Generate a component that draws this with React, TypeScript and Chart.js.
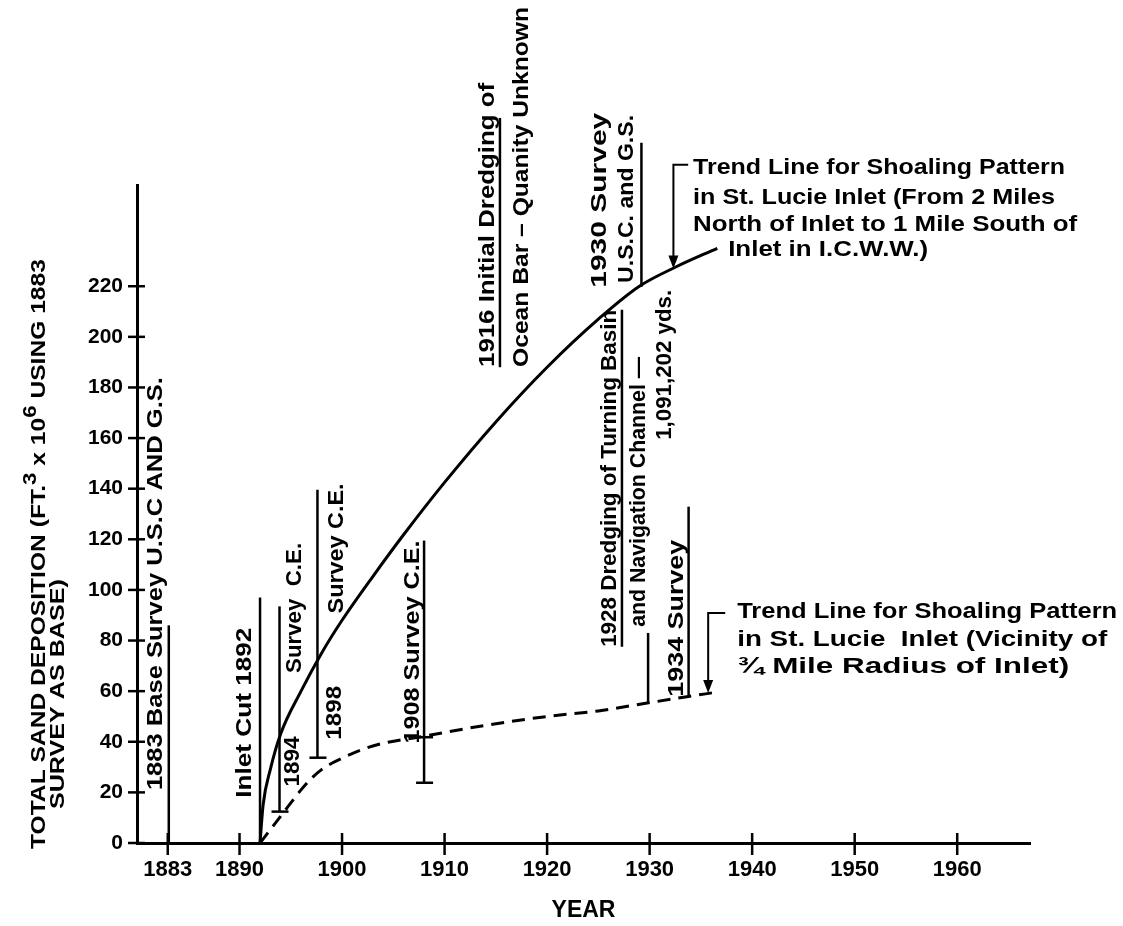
import React, { useEffect, useRef } from 'react';
import { Chart, registerables } from 'chart.js';

Chart.register(...registerables);

const FONT = '"Liberation Sans", Arial, "DejaVu Sans", sans-serif';

// Upper trend line (solid): 2 miles north to 1 mile south of inlet
const upperYears = [1892, 1892.3, 1893, 1894, 1896, 1898, 1900, 1903, 1906, 1910, 1915, 1920, 1925, 1929, 1932.5, 1936.6];
const upperValues = [0, 15, 29, 43, 60, 75, 88, 105.3, 121.8, 142.5, 166.4, 188, 207, 220, 227.5, 235];

// Lower trend line (dashed): vicinity of 3/4 mile radius of inlet
const lowerYears = [1892, 1894, 1896, 1897, 1898, 1899, 1900, 1902, 1904, 1908, 1914, 1920, 1925, 1929.9, 1933.8, 1936.2];
const lowerValues = [0, 10.5, 21, 25.5, 29, 31.5, 33.5, 37, 39.4, 42.2, 46.5, 50, 52.2, 55.4, 57.9, 59.4];

const xTickYears = [1883, 1890, 1900, 1910, 1920, 1930, 1940, 1950, 1960];
const yTickValues = [0, 20, 40, 60, 80, 100, 120, 140, 160, 180, 200, 220];

const yTitleLine1 = ['TOTAL SAND DEPOSITION (FT.', '3', ' x 10', '6', ' USING 1883'];
const yTitleLine2 = 'SURVEY AS BASE)';
const xTitle = 'YEAR';

// event marker lines (year, from value, to value)
const markerLines = [
  { year: 1883.1, from: 0, to: 86 },
  { year: 1892.0, from: 0, to: 97 },
  { year: 1893.9, from: 12.4, to: 93.5 },
  { year: 1897.6, from: 33.7, to: 139.6 },
  { year: 1908.0, from: 23.8, to: 119.5 },
  { year: 1915.4, from: 188, to: 286.5 },
  { year: 1927.3, from: 77.5, to: 210.7 },
  { year: 1929.85, from: 55.4, to: 83 },
  { year: 1929.2, from: 219.8, to: 276.7 },
  { year: 1933.8, from: 57.9, to: 132.9 },
];
const plusMarks = [
  { year: 1893.9, value: 12.4 },
  { year: 1897.6, value: 33.7 },
  { year: 1908.0, value: 23.8 },
  { year: 1908.0, value: 41.8 },
];

const verticalNotes = [
  { text: '1883 Base Survey U.S.C AND G.S.', year: 1881.85, value: 20.9, len: 413 },
  { text: 'Inlet Cut 1892', year: 1890.54, value: 17.9, len: 170 },
  { text: '1894', year: 1895.22, value: 22.3, len: 50 },
  { text: 'Survey  C.E.', year: 1895.41, value: 67.2, len: 130 },
  { text: '1898', year: 1899.32, value: 40.8, len: 54 },
  { text: 'Survey C.E.', year: 1899.51, value: 90.7, len: 130 },
  { text: '1908 Survey C.E.', year: 1906.96, value: 39.3, len: 203 },
  { text: '1916 Initial Dredging of', year: 1914.24, value: 188.1, len: 284 },
  { text: 'Ocean Bar – Quanity Unknown', year: 1917.53, value: 188.1, len: 360 },
  { text: '1928 Dredging of Turning Basin', year: 1926.15, value: 77.5, len: 337 },
  { text: 'and Navigation Channel —', year: 1928.98, value: 85.4, len: 270 },
  { text: '1,091,202 yds.', year: 1931.51, value: 159.3, len: 150 },
  { text: '1930 Survey', year: 1925.17, value: 219.4, len: 175 },
  { text: 'U.S.C. and G.S.', year: 1927.78, value: 221.3, len: 168 },
  { text: '1934 Survey', year: 1932.65, value: 57.8, len: 157 },
];

const horizontalNotes = [
  { text: 'Trend Line for Shoaling Pattern', year: 1934.24, value: 266.8, len: 372 },
  { text: 'in St. Lucie Inlet (From 2 Miles', year: 1934.24, value: 254.9, len: 362 },
  { text: 'North of Inlet to 1 Mile South of', year: 1934.24, value: 244.3, len: 384 },
  { text: 'Inlet in I.C.W.W.)', year: 1937.66, value: 234.4, len: 200 },
  { text: 'Trend Line for Shoaling Pattern', year: 1938.54, value: 91.3, len: 380 },
  { text: 'in St. Lucie  Inlet (Vicinity of', year: 1938.54, value: 80.2, len: 370 },
  { text: '¾ Mile Radius of Inlet)', year: 1938.54, value: 69.6, len: 332 },
];

const arrows = [
  { year: 1932.32, top: 268, tip: 227, hookTo: 1933.76 },
  { year: 1935.71, top: 90.9, tip: 59.3, hookTo: 1937.37 },
];

function drawFitted(ctx: CanvasRenderingContext2D, text: string, x: number, y: number, len: number, vertical: boolean, size: number) {
  ctx.save();
  ctx.translate(x, y);
  if (vertical) ctx.rotate(-Math.PI / 2);
  ctx.font = `bold ${size}px ${FONT}`;
  const w = ctx.measureText(text).width;
  ctx.scale(len / w, 1);
  ctx.textAlign = 'left';
  ctx.textBaseline = 'middle';
  ctx.fillText(text, 0, 0);
  ctx.restore();
}

const notesPlugin = {
  id: 'sketchNotes',
  afterDraw(chart: any) {
    const { ctx, chartArea } = chart;
    const xs = chart.scales.x;
    const ys = chart.scales.y;
    const X = (v: number) => xs.getPixelForValue(v);
    const Y = (v: number) => ys.getPixelForValue(v);
    ctx.save();
    ctx.strokeStyle = '#000';
    ctx.fillStyle = '#000';
    ctx.lineCap = 'butt';

    // crossing tick marks
    ctx.lineWidth = 2.5;
    yTickValues.forEach((v) => {
      const py = Y(v);
      ctx.beginPath();
      ctx.moveTo(chartArea.left - 9, py);
      ctx.lineTo(chartArea.left + 8, py);
      ctx.stroke();
    });
    xTickYears.forEach((v) => {
      const px = X(v);
      ctx.beginPath();
      ctx.moveTo(px, chartArea.bottom - 10);
      ctx.lineTo(px, chartArea.bottom + 12);
      ctx.stroke();
    });

    // marker lines
    ctx.lineWidth = 2.5;
    markerLines.forEach((m) => {
      ctx.beginPath();
      ctx.moveTo(X(m.year), Y(m.from));
      ctx.lineTo(X(m.year), Y(m.to));
      ctx.stroke();
    });
    plusMarks.forEach((p) => {
      ctx.beginPath();
      ctx.moveTo(X(p.year) - 8, Y(p.value));
      ctx.lineTo(X(p.year) + 9, Y(p.value));
      ctx.stroke();
    });

    // arrows with hooks
    arrows.forEach((a) => {
      const px = X(a.year);
      ctx.lineWidth = 2;
      ctx.beginPath();
      ctx.moveTo(X(a.hookTo), Y(a.top));
      ctx.lineTo(px, Y(a.top));
      ctx.lineTo(px, Y(a.tip) - 8);
      ctx.stroke();
      ctx.beginPath();
      ctx.moveTo(px, Y(a.tip));
      ctx.lineTo(px - 5, Y(a.tip) - 13);
      ctx.lineTo(px + 5, Y(a.tip) - 13);
      ctx.closePath();
      ctx.fill();
    });

    // notes
    verticalNotes.forEach((n) => drawFitted(ctx, n.text, X(n.year), Y(n.value), n.len, true, 22));
    horizontalNotes.forEach((n) => drawFitted(ctx, n.text, X(n.year), Y(n.value), n.len, false, 22));

    // y axis title (two lines, rotated, with raised exponents)
    {
      const size = 21;
      ctx.save();
      ctx.translate(X(1870.5), Y(-2.4));
      ctx.rotate(-Math.PI / 2);
      ctx.textAlign = 'left';
      ctx.textBaseline = 'middle';
      let total = 0;
      const widths = yTitleLine1.map((t, i) => {
        ctx.font = `bold ${i % 2 === 1 ? size - 2 : size}px ${FONT}`;
        const w = ctx.measureText(t).width;
        total += w;
        return w;
      });
      ctx.scale(590 / total, 1);
      let cx = 0;
      yTitleLine1.forEach((t, i) => {
        const sup = i % 2 === 1;
        ctx.font = `bold ${sup ? size - 2 : size}px ${FONT}`;
        ctx.fillText(t, cx, sup ? -9 : 0);
        cx += widths[i];
      });
      ctx.restore();
      drawFitted(ctx, yTitleLine2, X(1872.3), Y(13.4), 230, true, size);
    }
    ctx.restore();
  },
};

export default function App() {
  const ref = useRef<HTMLCanvasElement>(null);
  useEffect(() => {
    const canvas = ref.current;
    if (!canvas) return;
    const tickFont = (size: number) => ({ family: FONT, size, weight: 'bold' as const });
    const chart = new Chart(canvas, {
      type: 'line',
      data: {
        datasets: [
          {
            label: 'Upper trend line',
            data: upperYears.map((x, i) => ({ x, y: upperValues[i] })),
            borderColor: '#000',
            borderWidth: 3,
            pointRadius: 0,
            fill: false,
            cubicInterpolationMode: 'monotone',
          },
          {
            label: 'Lower trend line',
            data: lowerYears.map((x, i) => ({ x, y: lowerValues[i] })),
            borderColor: '#000',
            borderWidth: 3,
            borderDash: [13, 8],
            pointRadius: 0,
            fill: false,
            cubicInterpolationMode: 'monotone',
          },
        ],
      },
      options: {
        responsive: false,
        animation: false,
        devicePixelRatio: 1,
        layout: { padding: { left: 0, top: 185, right: 93, bottom: 0 } },
        plugins: { legend: { display: false }, tooltip: { enabled: false } },
        scales: {
          x: {
            type: 'linear',
            min: 1880,
            max: 1967.1,
            afterBuildTicks: (s: any) => {
              s.ticks = xTickYears.map((v) => ({ value: v }));
            },
            afterFit: (s: any) => {
              s.height = 83;
            },
            grid: { display: false, drawTicks: false },
            border: { display: true, color: '#000', width: 3 },
            ticks: {
              padding: 14,
              color: '#000',
              font: tickFont(22),
              autoSkip: false,
              maxRotation: 0,
              callback: (v: any) => String(v),
            },
            title: {
              display: true,
              text: xTitle,
              color: '#000',
              font: tickFont(23),
              padding: { top: 0, bottom: 2 },
            },
          },
          y: {
            type: 'linear',
            min: 0,
            max: 260,
            afterBuildTicks: (s: any) => {
              s.ticks = yTickValues.map((v) => ({ value: v }));
            },
            afterFit: (s: any) => {
              s.width = 137;
            },
            grid: { display: false, drawTicks: false },
            border: { display: true, color: '#000', width: 3 },
            ticks: {
              padding: 14,
              color: '#000',
              font: tickFont(21),
              autoSkip: false,
              callback: (v: any) => String(v),
            },
            title: { display: false },
          },
        },
      },
      plugins: [notesPlugin],
    } as any);
    return () => chart.destroy();
  }, []);
  return (
    <div style={{ position: 'absolute', left: 0, top: 0, width: 1123, height: 926, background: '#fff' }}>
      <canvas ref={ref} width={1123} height={926} style={{ display: 'block', width: 1123, height: 926 }} />
    </div>
  );
}
